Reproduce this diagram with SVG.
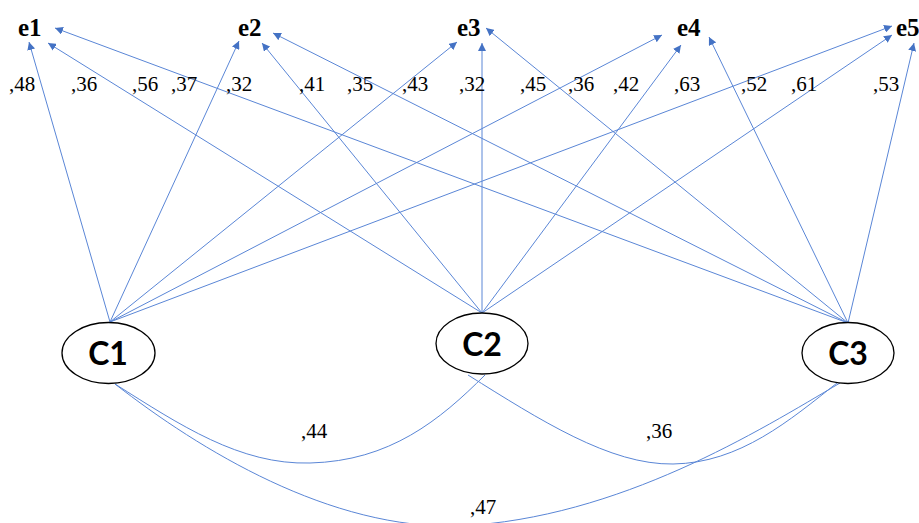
<svg xmlns="http://www.w3.org/2000/svg" width="919" height="523" viewBox="0 0 919 523">
<style>
.c{stroke:#5A86D6;stroke-width:1;fill:none}
.a{marker-end:url(#ah)}
.n{fill:#fff;stroke:#000;stroke-width:1.3}
.nt{font-family:Lato,"Liberation Sans",sans-serif;font-weight:bold;font-size:32px;fill:#000}
.et{font-family:"Liberation Serif",serif;font-weight:bold;font-size:25px;fill:#000}
.l{font-family:"Liberation Serif",serif;font-size:21px;fill:#000}
</style>
<defs>
<marker id="ah" markerUnits="userSpaceOnUse" markerWidth="9" markerHeight="8" refX="8" refY="4" orient="auto">
<path d="M0,0 L8,4 L0,8 z" fill="#4472C4"/>
</marker>
</defs>
<rect width="919" height="523" fill="#fff"/>
<g id="connectors">
<line class="c a" x1="110" y1="322" x2="29" y2="42"/>
<line class="c a" x1="110" y1="322" x2="239" y2="41"/>
<line class="c a" x1="110" y1="322" x2="457" y2="42"/>
<line class="c a" x1="110" y1="322" x2="662" y2="35"/>
<line class="c a" x1="110" y1="322" x2="892" y2="26"/>
<line class="c a" x1="482" y1="313" x2="48" y2="43"/>
<line class="c a" x1="482" y1="313" x2="262" y2="43"/>
<line class="c a" x1="482" y1="313" x2="482" y2="43"/>
<line class="c a" x1="482" y1="313" x2="681" y2="45"/>
<line class="c a" x1="482" y1="313" x2="892" y2="35"/>
<line class="c a" x1="848" y1="323" x2="55" y2="28"/>
<line class="c a" x1="848" y1="323" x2="273" y2="33"/>
<line class="c a" x1="848" y1="323" x2="486" y2="28"/>
<line class="c a" x1="848" y1="323" x2="709" y2="37"/>
<line class="c a" x1="848" y1="323" x2="914" y2="43"/>
<path class="c" d="M115,384 C180,425 240,465 310,463 C390,461 440,420 485,375"/>
<path class="c" d="M468,375 C540,420 610,465 673,464 C740,463 790,420 837,383"/>
<path class="c" d="M115,384 C200,450 330,530 460,526 C620,518 760,430 840,383"/>
</g>
<g id="labels">
<text class="l" x="9" y="91">,48</text>
<text class="l" x="71" y="91">,36</text>
<text class="l" x="132" y="91">,56</text>
<text class="l" x="171" y="91">,37</text>
<text class="l" x="226" y="91">,32</text>
<text class="l" x="299" y="91">,41</text>
<text class="l" x="347" y="91">,35</text>
<text class="l" x="402" y="91">,43</text>
<text class="l" x="459" y="91">,32</text>
<text class="l" x="520" y="91">,45</text>
<text class="l" x="568" y="91">,36</text>
<text class="l" x="613" y="91">,42</text>
<text class="l" x="674" y="91">,63</text>
<text class="l" x="741" y="91">,52</text>
<text class="l" x="791" y="91">,61</text>
<text class="l" x="873" y="91">,53</text>
<text class="l" x="301" y="438">,44</text>
<text class="l" x="646" y="438">,36</text>
<text class="l" x="470" y="514">,47</text>
</g>
<g id="e1"><text class="et" x="18" y="36">e1</text></g>
<g id="e2"><text class="et" x="238" y="36">e2</text></g>
<g id="e3"><text class="et" x="457" y="36">e3</text></g>
<g id="e4"><text class="et" x="677" y="36">e4</text></g>
<g id="e5"><text class="et" x="896" y="36">e5</text></g>
<g id="C1"><ellipse class="n" cx="108.5" cy="353" rx="46.5" ry="30.5"/><text class="nt" x="108" y="365" text-anchor="middle">C1</text></g>
<g id="C2"><ellipse class="n" cx="482" cy="343.5" rx="46" ry="30.5"/><text class="nt" x="482" y="356" text-anchor="middle">C2</text></g>
<g id="C3"><ellipse class="n" cx="848" cy="353" rx="46" ry="30.5"/><text class="nt" x="848" y="365" text-anchor="middle">C3</text></g>
</svg>
